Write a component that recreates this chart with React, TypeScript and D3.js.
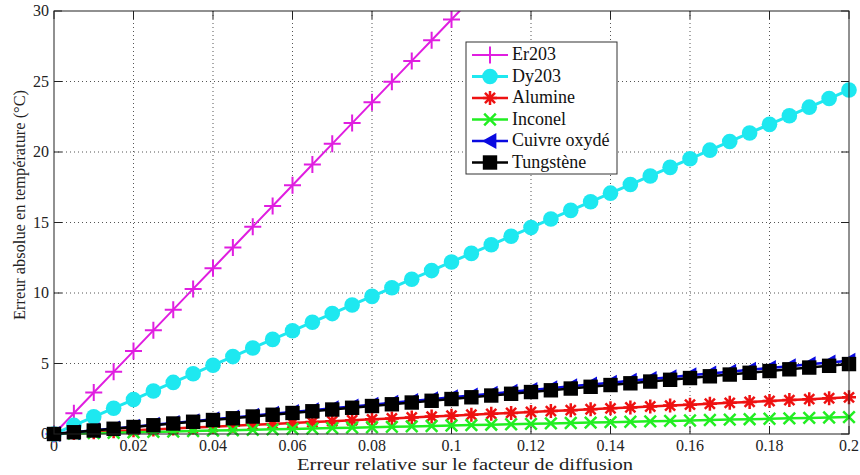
import React from "react";
import * as d3 from "d3";

const xValues = [0, 0.005, 0.01, 0.015, 0.02, 0.025, 0.03, 0.035, 0.04, 0.045, 0.05, 0.055, 0.06, 0.065, 0.07, 0.075, 0.08, 0.085, 0.09, 0.095, 0.1, 0.105, 0.11, 0.115, 0.12, 0.125, 0.13, 0.135, 0.14, 0.145, 0.15, 0.155, 0.16, 0.165, 0.17, 0.175, 0.18, 0.185, 0.19, 0.195, 0.2];

const er203 = [0, 1.47, 2.94, 4.41, 5.88, 7.35, 8.82, 10.29, 11.76, 13.23, 14.7, 16.17, 17.64, 19.11, 20.58, 22.05, 23.52, 24.99, 26.46, 27.93, 29.4, 30.87, 32.34, 33.81, 35.28, 36.75, 38.22, 39.69, 41.16, 42.63, 44.1, 45.57, 47.04, 48.51, 49.98, 51.45, 52.92, 54.39, 55.86, 57.33, 58.8];
const dy203 = [0, 0.61, 1.22, 1.83, 2.44, 3.05, 3.66, 4.27, 4.88, 5.49, 6.1, 6.71, 7.32, 7.93, 8.54, 9.15, 9.76, 10.37, 10.98, 11.59, 12.2, 12.81, 13.42, 14.03, 14.64, 15.25, 15.86, 16.47, 17.08, 17.69, 18.3, 18.91, 19.52, 20.13, 20.74, 21.35, 21.96, 22.57, 23.18, 23.79, 24.4];
const alumine = [0, 0.065, 0.13, 0.195, 0.26, 0.325, 0.39, 0.455, 0.52, 0.585, 0.65, 0.715, 0.78, 0.845, 0.91, 0.975, 1.04, 1.105, 1.17, 1.235, 1.3, 1.365, 1.43, 1.495, 1.56, 1.625, 1.69, 1.755, 1.82, 1.885, 1.95, 2.015, 2.08, 2.145, 2.21, 2.275, 2.34, 2.405, 2.47, 2.535, 2.6];
const inconel = [0, 0.03, 0.06, 0.09, 0.12, 0.15, 0.18, 0.21, 0.24, 0.27, 0.3, 0.33, 0.36, 0.39, 0.42, 0.45, 0.48, 0.51, 0.54, 0.57, 0.6, 0.63, 0.66, 0.69, 0.72, 0.75, 0.78, 0.81, 0.84, 0.87, 0.9, 0.93, 0.96, 0.99, 1.02, 1.05, 1.08, 1.11, 1.14, 1.17, 1.2];
const cuivre = [0, 0.13, 0.26, 0.39, 0.52, 0.65, 0.78, 0.91, 1.04, 1.17, 1.3, 1.43, 1.56, 1.69, 1.82, 1.95, 2.08, 2.21, 2.34, 2.47, 2.6, 2.73, 2.86, 2.99, 3.12, 3.25, 3.38, 3.51, 3.64, 3.77, 3.9, 4.03, 4.16, 4.29, 4.42, 4.55, 4.68, 4.81, 4.94, 5.07, 5.2];
const tungstene = [0, 0.124, 0.248, 0.372, 0.496, 0.62, 0.744, 0.868, 0.992, 1.116, 1.24, 1.364, 1.488, 1.612, 1.736, 1.86, 1.984, 2.108, 2.232, 2.356, 2.48, 2.604, 2.728, 2.852, 2.976, 3.1, 3.224, 3.348, 3.472, 3.596, 3.72, 3.844, 3.968, 4.092, 4.216, 4.34, 4.464, 4.588, 4.712, 4.836, 4.96];

const seriesNames = ["Er203", "Dy203", "Alumine", "Inconel", "Cuivre oxydé", "Tungstène"];
const seriesColors = ["#e01ee0", "#1ee8f0", "#ee1111", "#22ee22", "#0a0ae0", "#000000"];
const seriesMarkers = ["plus", "circle", "star", "cross", "triangle", "square"];
const seriesWidths = [2, 3, 2.5, 2.5, 2.5, 2.5];
const seriesData = [er203, dy203, alumine, inconel, cuivre, tungstene];

const xTicks = [0, 0.02, 0.04, 0.06, 0.08, 0.1, 0.12, 0.14, 0.16, 0.18, 0.2];
const xTickLabels = ["0", "0.02", "0.04", "0.06", "0.08", "0.1", "0.12", "0.14", "0.16", "0.18", "0.2"];
const yTicks = [0, 5, 10, 15, 20, 25, 30];

const xLabel = "Erreur relative sur le facteur de diffusion";
const yLabel = "Erreur absolue en température (°C)";

const W = 860, H = 475;
const left = 54, right = 849, top = 11, bottom = 434;
const FONT = '"Liberation Serif", "Times New Roman", "DejaVu Serif", serif';
const fontStyle = { fontFamily: FONT };

function Marker({ type, x, y, color }: { type: string; x: number; y: number; color: string }) {
  if (type === "plus") {
    const s = 8.5;
    return <path d={`M${x - s},${y}H${x + s}M${x},${y - s}V${y + s}`} stroke={color} strokeWidth={2} fill="none" />;
  }
  if (type === "circle") return <circle cx={x} cy={y} r={7.8} fill={color} />;
  if (type === "star") {
    const s = 7, d = s * 0.72;
    return <path d={`M${x - s},${y}H${x + s}M${x},${y - s}V${y + s}M${x - d},${y - d}L${x + d},${y + d}M${x - d},${y + d}L${x + d},${y - d}`} stroke={color} strokeWidth={2.5} fill="none" />;
  }
  if (type === "cross") {
    const d = 5.8;
    return <path d={`M${x - d},${y - d}L${x + d},${y + d}M${x - d},${y + d}L${x + d},${y - d}`} stroke={color} strokeWidth={2.5} fill="none" />;
  }
  if (type === "triangle") {
    const s = 8;
    return <path d={`M${x - s},${y}L${x + s * 0.8},${y - s}L${x + s * 0.8},${y + s}Z`} fill={color} />;
  }
  const s = 7.2;
  return <rect x={x - s} y={y - s} width={2 * s} height={2 * s} fill={color} />;
}

export default function App() {
  const xs = d3.scaleLinear().domain([0, 0.2]).range([left, right]);
  const ys = d3.scaleLinear().domain([0, 30]).range([bottom, top]);
  const line = d3.line<number>().x((_, i) => xs(xValues[i])).y((d) => ys(d));

  const legX = 466, legY = 42, legW = 151, legH = 132, rowH = 21.5;

  return (
    <svg width={W} height={H} style={{ position: "absolute", left: 0, top: 0, background: "#fff", fontFamily: FONT }}>
      <defs>
        <clipPath id="plotclip">
          <rect x={left - 10} y={top} width={right - left + 20} height={bottom - top + 10} />
        </clipPath>
      </defs>
      <rect x={0} y={0} width={W} height={H} fill="#fff" />
      {xTicks.slice(1, -1).map((t) => (
        <line key={"gx" + t} x1={xs(t)} x2={xs(t)} y1={top} y2={bottom} stroke="#555" strokeWidth={1} strokeDasharray="1,3" />
      ))}
      {yTicks.slice(1, -1).map((t) => (
        <line key={"gy" + t} x1={left} x2={right} y1={ys(t)} y2={ys(t)} stroke="#555" strokeWidth={1} strokeDasharray="1,3" />
      ))}
      {xTicks.map((t, i) => (
        <g key={"tx" + t}>
          <line x1={xs(t)} x2={xs(t)} y1={bottom} y2={bottom - 8} stroke="#222" />
          <line x1={xs(t)} x2={xs(t)} y1={top} y2={top + 8} stroke="#222" />
          <text x={xs(t)} y={451} textAnchor="middle" style={fontStyle} fontSize={16} fill="#222">{xTickLabels[i]}</text>
        </g>
      ))}
      {yTicks.map((t) => (
        <g key={"ty" + t}>
          <line x1={left} x2={left + 8} y1={ys(t)} y2={ys(t)} stroke="#222" />
          <line x1={right} x2={right - 8} y1={ys(t)} y2={ys(t)} stroke="#222" />
          <text x={left - 5} y={ys(t) + 5} textAnchor="end" style={fontStyle} fontSize={16} fill="#222">{t}</text>
        </g>
      ))}
      <g clipPath="url(#plotclip)">
        {seriesData.map((data, si) => (
          <g key={seriesNames[si]}>
            <path d={line(data) || ""} fill="none" stroke={seriesColors[si]} strokeWidth={seriesWidths[si]} />
            {data.map((v, i) => (ys(v) >= top - 2 ? <Marker key={i} type={seriesMarkers[si]} x={xs(xValues[i])} y={ys(v)} color={seriesColors[si]} /> : null))}
          </g>
        ))}
      </g>
      <rect x={left} y={top} width={right - left} height={bottom - top} fill="none" stroke="#222" strokeWidth={1} />
      <text x={465} y={470} textAnchor="middle" style={fontStyle} fontSize={17} fill="#222" textLength={336} lengthAdjust="spacingAndGlyphs">{xLabel}</text>
      <text transform={`translate(25,${205}) rotate(-90)`} textAnchor="middle" style={fontStyle} fontSize={17} fill="#222" textLength={230} lengthAdjust="spacingAndGlyphs">{yLabel}</text>
      <rect x={legX} y={legY} width={legW} height={legH} fill="#fff" stroke="#333" strokeWidth={1} />
      {seriesNames.map((n, i) => {
        const cy = legY + 13 + i * rowH;
        return (
          <g key={"leg" + n}>
            <line x1={legX + 6} x2={legX + 42} y1={cy} y2={cy} stroke={seriesColors[i]} strokeWidth={seriesWidths[i]} />
            <Marker type={seriesMarkers[i]} x={legX + 24} y={cy} color={seriesColors[i]} />
            <text x={legX + 46} y={cy + 5} style={fontStyle} fontSize={18} fill="#111">{n}</text>
          </g>
        );
      })}
    </svg>
  );
}
